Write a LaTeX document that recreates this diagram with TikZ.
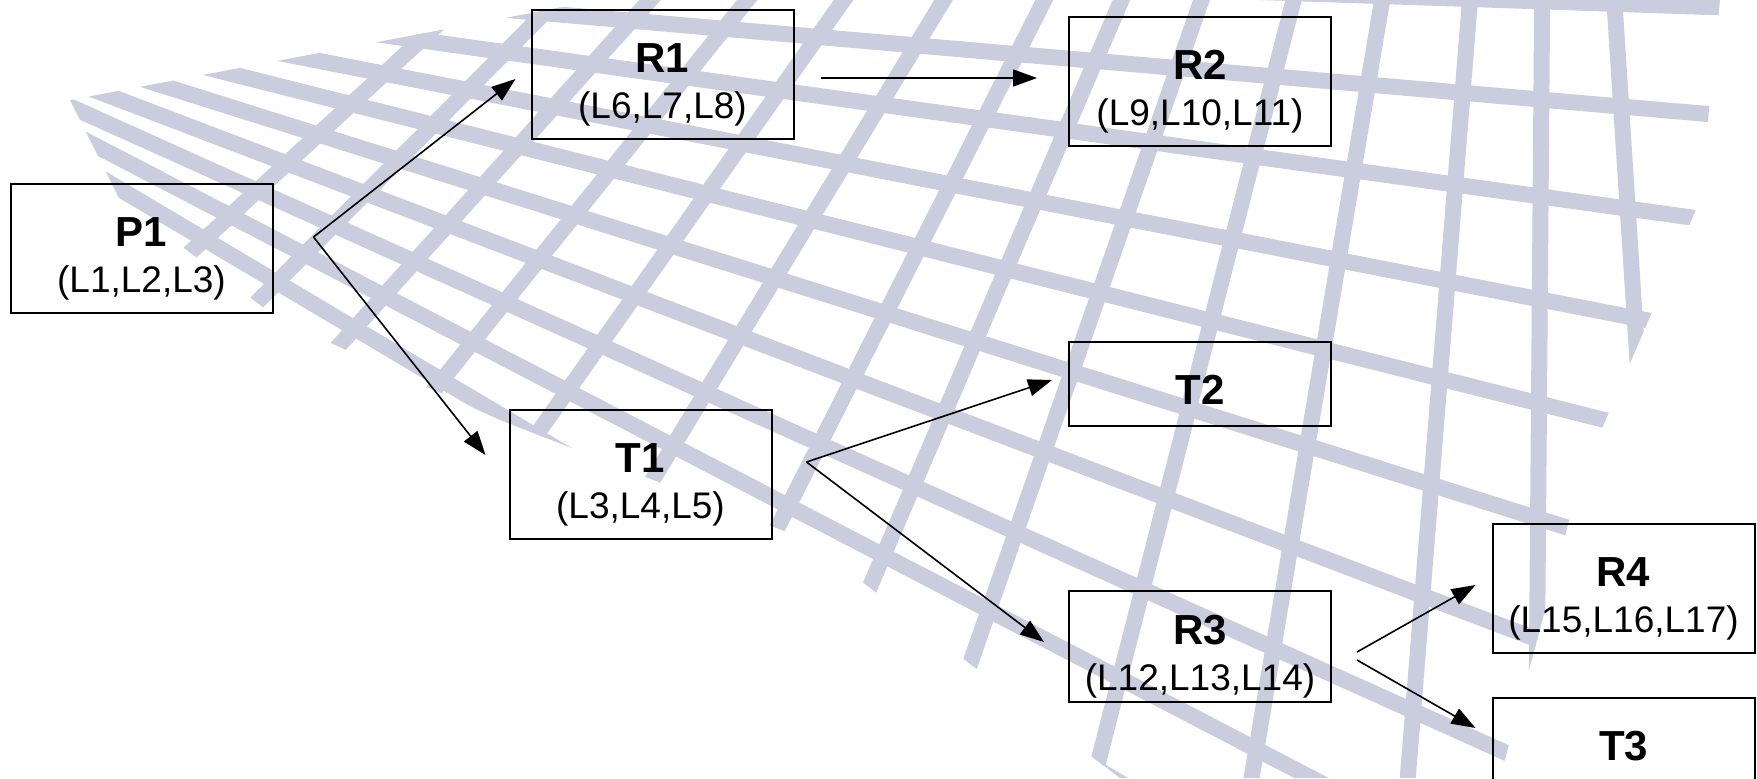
\documentclass[tikz,border=0pt]{standalone}
\usepackage{fontspec}
\setmainfont{Liberation Sans}
\usetikzlibrary{arrows.meta, calc}

\definecolor{gridblue}{RGB}{202,205,222}

\newcommand{\hd}[1]{{\bfseries\fontsize{21}{23}\selectfont\rule{0pt}{25pt}#1}}

\tikzset{
  box/.style={draw, line width=1pt, minimum width=131pt, minimum height=64.5pt,
    align=center, inner sep=2pt, font=\fontsize{18.5}{23}\selectfont},
  onebox/.style={box, minimum height=42pt, text height=20pt, text depth=0pt,
    font=\bfseries\fontsize{21}{23}\selectfont},
  arr/.style={line width=0.8pt, -{Triangle[length=12pt, width=8.5pt]}},
  gridline/.style={gridblue, line width=8pt},
}

\begin{document}
\begin{tikzpicture}[x=0.5pt, y=-0.5pt]
        \useasboundingbox (0,0) rectangle (1757,778);
        % faint grid behind the chart
        \begin{scope}
          \clip (70,100) -- (600,0) -- (1720,0) -- (1700,200) -- (1580,480) -- (1500,778)
            -- (1120,778) -- (807,540) -- (500,420) -- (280,320) -- (120,200) -- cycle;
          \coordinate (va) at (-300,-60);
          \coordinate (vb) at (1550,-1000);
          \foreach \Y in {-10, 70, 149, 233, 318, 412, 511, 615, 720, 830} {
            \draw [gridline] (va) -- ($(va)!2.5!(1200,\Y)$);
          }
          \foreach \X in {30, 160, 290, 426, 561, 701, 842, 950, 1062, 1191, 1315, 1438, 1539, 1640} {
            \draw [gridline] (vb) -- ($(vb)!3!(\X,400)$);
          }
        \end{scope}

        \node [box] (P1) at (141.5,248) {\hd{P1}\\(L1,L2,L3)};
        \node [box] (R1) at (662.5,74) {\hd{R1}\\(L6,L7,L8)};
        \node [box] (R2) at (1200,81.5) {\hd{R2}\\(L9,L10,L11)};
        \node [box] (T1) at (640.5,474.5) {\hd{T1}\\(L3,L4,L5)};
        \node [onebox] (T2) at (1200,384) {T2};
        \node [box, minimum height=54.5pt] (R3) at (1200,646.5) {\hd{R3}\\(L12,L13,L14)};
        \node [box] (R4) at (1623.5,588) {\hd{R4}\\(L15,L16,L17)};
        \node [onebox] (T3) at (1623.5,740) {T3};

        \coordinate (p1fork) at ([xshift=20pt, yshift=5.5pt]P1.east);
        \coordinate (t1fork) at ([xshift=17pt, yshift=6.25pt]T1.east);
        \draw [arr] (p1fork) -- ([xshift=-7.5pt, yshift=-2.5pt]R1.west);
        \draw [arr] (p1fork) -- ([xshift=-11.5pt, yshift=9.75pt]T1.west);
        \draw [arr] ([xshift=13pt, yshift=-2pt]R1.east) -- ([xshift=-15.5pt, yshift=1.75pt]R2.west);
        \draw [arr] (t1fork) -- ([xshift=-8pt, yshift=2pt]T2.west);
        \draw [arr] (t1fork) -- ([xshift=-12pt, yshift=2.25pt]R3.west);
        \draw [arr] ([xshift=12.5pt, yshift=-2.75pt]R3.east) -- ([xshift=-8pt, yshift=1.5pt]R4.west);
        \draw [arr] ([xshift=12.5pt, yshift=-6.75pt]R3.east) -- ([xshift=-8pt, yshift=6pt]T3.west);
\end{tikzpicture}
\end{document}
